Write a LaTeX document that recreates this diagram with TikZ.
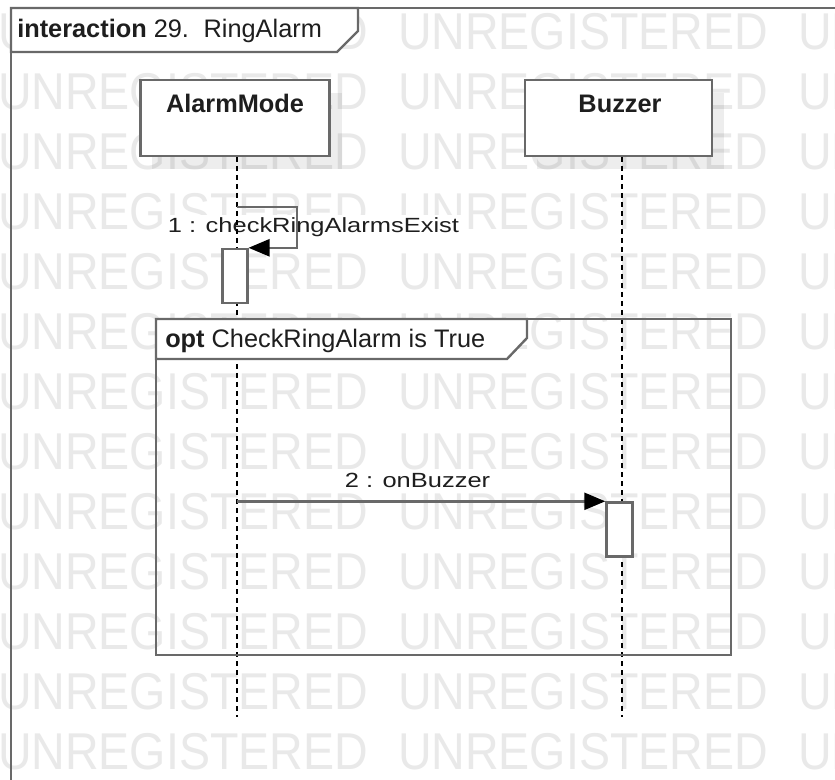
\documentclass[tikz,border=0pt]{standalone}
\usepackage{fontspec}
\setmainfont{Liberation Sans}
\newfontfamily\msgfont[FakeStretch=1.24]{Liberation Sans}
\newfontfamily\wmfont[FakeStretch=0.9]{Liberation Sans}
\usetikzlibrary{arrows.meta, shadows}
\definecolor{framegray}{RGB}{105, 105, 105}
\definecolor{wmgray}{RGB}{233, 233, 233}
\definecolor{inkgray}{RGB}{30, 30, 30}

\begin{document}
\begin{tikzpicture}[x=0.75pt, y=-0.75pt,
    wmark/.style={inner sep=0pt, text=wmgray,
        font=\wmfont\fontsize{38.8}{44}\selectfont},
    lifehead/.style={draw=framegray, line width=1.8pt, fill=white,
        inner sep=0pt, minimum height=56.7pt,
        drop shadow={shadow xshift=9pt, shadow yshift=-9.75pt,
            opacity=0.07, fill=black}},
    headname/.style={anchor=base, inner sep=0pt, text=inkgray,
        font=\fontsize{19}{22}\selectfont\bfseries},
    tabtext/.style={anchor=base west, inner sep=0pt, text=inkgray,
        font=\fontsize{19}{22}\selectfont},
    msglabel/.style={anchor=base, fill=white, inner sep=2pt, text=inkgray,
        font=\msgfont\fontsize{15.4}{18}\selectfont},
    lifeline/.style={black, line width=0.8pt, dash pattern=on 3.75pt off 3pt},
    actbox/.style={draw=framegray, line width=1.8pt, fill=white,
        inner sep=0pt, minimum width=18.5pt, minimum height=40.5pt},
    frameline/.style={draw=framegray, line width=1.8pt},
    msgline/.style={framegray, line width=1.8pt,
        -{Triangle[length=15.75pt, width=12.75pt, color=black]}}
]
    \useasboundingbox (0,0) rectangle (835,780);
    \fill[white] (0,0) rectangle (835,780);
    \clip (0,0) rectangle (835,780);

    % watermark
    \foreach \r in {0,...,12}
        \foreach \c in {0,1,2}
            \node[wmark] (wm\r\c) at ({183+400*\c},{32+60*\r}) {UNREGISTERED};

    % lifeline heads
    \node[lifehead, minimum width=142pt] (amode) at (235,118) {};
    \node[lifehead, minimum width=140pt] (buzz) at (618.5,118) {};
    \node[headname] (amodename) at (235,113) {AlarmMode};
    \node[headname] (buzzname) at (620,113) {Buzzer};

    \node[msglabel] (lbl1) at (313.5,233) {1 : checkRingAlarmsExist};
    \node[msglabel] (lbl2) at (417.5,487) {2 : onBuzzer};

    \coordinate (amodeend) at (237,717);
    \coordinate (buzzend) at (622,717);
    \draw[lifeline] (amodeend |- amode.south) -- (amodeend);
    \draw[lifeline] (buzzend |- buzz.south) -- (buzzend);

    % interaction frame
    \draw[frameline] (11,790) -- (11,8) -- (845,8);
    \draw[frameline, fill=white] (11,8) -- (358,8) -- (358,31) -- (337,52) -- (11,52) -- cycle;
    \node[tabtext] (ttl) at (17,38) {\textbf{interaction} 29.\hspace{11pt}RingAlarm};

    % opt fragment
    \draw[frameline] (156,319) rectangle (731,655);
    \draw[frameline, fill=white] (156,319) -- (527,319) -- (527,338) -- (507,359) -- (156,359) -- cycle;
    \node[tabtext] (opttxt) at (165,348) {\textbf{opt} CheckRingAlarm is True};

    % activations and messages
    \node[actbox] (act1) at (235,276) {};
    \node[actbox, minimum width=19.5pt] (act2) at (619.5,529.5) {};

    \coordinate (selfstart) at (237,207);
    \draw[msgline] (selfstart) -- ++(60,0) |- (act1.north east);
    \draw[msgline] (amodeend |- act2.north west) -- (act2.north west);
\end{tikzpicture}
\end{document}
